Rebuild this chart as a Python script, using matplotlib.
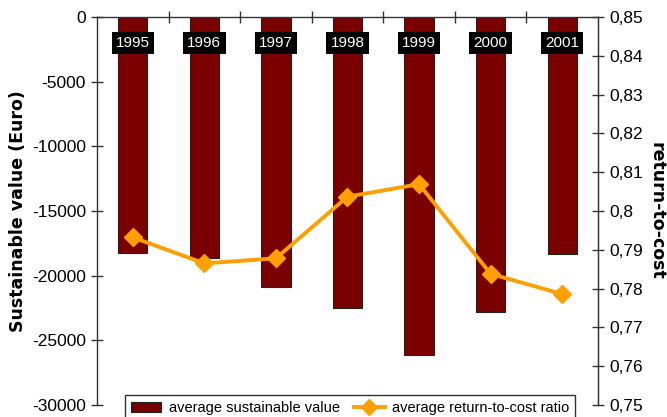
import matplotlib
matplotlib.use("Agg")
import matplotlib.pyplot as plt
from matplotlib.lines import Line2D
from matplotlib.patches import Patch
import numpy as np

years = ["1995", "1996", "1997", "1998", "1999", "2000", "2001"]
sustainable_value = [-18260, -18600, -20840, -22470, -26150, -22780, -18290]
return_to_cost = [0.7932, 0.7865, 0.7878, 0.8037, 0.8069, 0.7838, 0.7786]
left_ticks = [0, -5000, -10000, -15000, -20000, -25000, -30000]
right_ticks = [0.75, 0.76, 0.77, 0.78, 0.79, 0.80, 0.81, 0.82, 0.83, 0.84, 0.85]
right_tick_labels = ["0,75", "0,76", "0,77", "0,78", "0,79", "0,8", "0,81",
                     "0,82", "0,83", "0,84", "0,85"]

BAR_COLOR = "#7a0000"
LINE_COLOR = "#ffa000"

plt.rcParams["font.family"] = ["Liberation Sans", "DejaVu Sans"]

fig = plt.figure(figsize=(6.67, 4.17), dpi=100)
ax = fig.add_axes([97 / 667, 1 - 405 / 417, (598 - 97) / 667, (405 - 17) / 417])

x = np.arange(len(years))
ax.bar(x, sustainable_value, width=0.41, color=BAR_COLOR, edgecolor="#222222",
       linewidth=0.8, zorder=2)
ax.set_xlim(-0.5, len(years) - 0.5)
ax.set_ylim(-30000, 0)
ax.set_yticks(left_ticks)
ax.set_yticklabels([str(v) for v in left_ticks], fontsize=12.5)

# category ticks at the boundaries between years, on the top line
ax.xaxis.tick_top()
ax.set_xticks(np.arange(0.5, len(years) - 0.5, 1.0))
ax.set_xticklabels([])
ax.tick_params(axis="x", direction="inout", length=9, width=1, color="#333333")
ax.tick_params(axis="y", direction="inout", length=8, width=1, color="#333333",
               pad=4)

ax.spines["bottom"].set_visible(False)
for side in ("top", "left", "right"):
    ax.spines[side].set_color("#333333")
    ax.spines[side].set_linewidth(1.0)

# year labels on the bars
for xi, yr in zip(x, years):
    ax.text(xi, -2000, yr, ha="center", va="center", color="white",
            fontsize=11, zorder=5,
            bbox=dict(boxstyle="square,pad=0.28", facecolor="black",
                      edgecolor="none"))

ax.set_ylabel("Sustainable value (Euro)", fontsize=12.5, fontweight="bold",
              family="DejaVu Sans")
ax.yaxis.set_label_coords(-0.14, 0.5)

ax2 = ax.twinx()
ax2.plot(x, return_to_cost, color=LINE_COLOR, linewidth=2.8, marker="D",
         markersize=9, zorder=3)
ax2.set_ylim(0.75, 0.85)
ax2.set_yticks(right_ticks)
ax2.set_yticklabels(right_tick_labels, fontsize=12.5)
ax2.tick_params(axis="y", direction="inout", length=8, width=1, color="#333333",
                pad=4)
for side in ("top", "bottom", "left"):
    ax2.spines[side].set_visible(False)
ax2.spines["right"].set_color("#333333")
ax2.set_ylabel("return-to-cost", fontsize=12.5, fontweight="bold",
               family="DejaVu Sans", rotation=-90, va="center")
ax2.yaxis.set_label_coords(1.117, 0.5)

handles = [
    Patch(facecolor=BAR_COLOR, edgecolor="#222222", linewidth=0.8,
          label="average sustainable value"),
    Line2D([0], [0], color=LINE_COLOR, linewidth=2.8, marker="D", markersize=8,
           label="average return-to-cost ratio"),
]
leg = fig.legend(handles=handles, loc="upper center", ncol=2,
                 bbox_to_anchor=(350 / 667, 1 - 388 / 417),
                 fontsize=10.5, frameon=True, fancybox=False,
                 edgecolor="black", handlelength=2.1, borderpad=0.4,
                 columnspacing=1.0, handletextpad=0.5)
leg.get_frame().set_linewidth(1.0)

fig.savefig("out.png", dpi=100)
